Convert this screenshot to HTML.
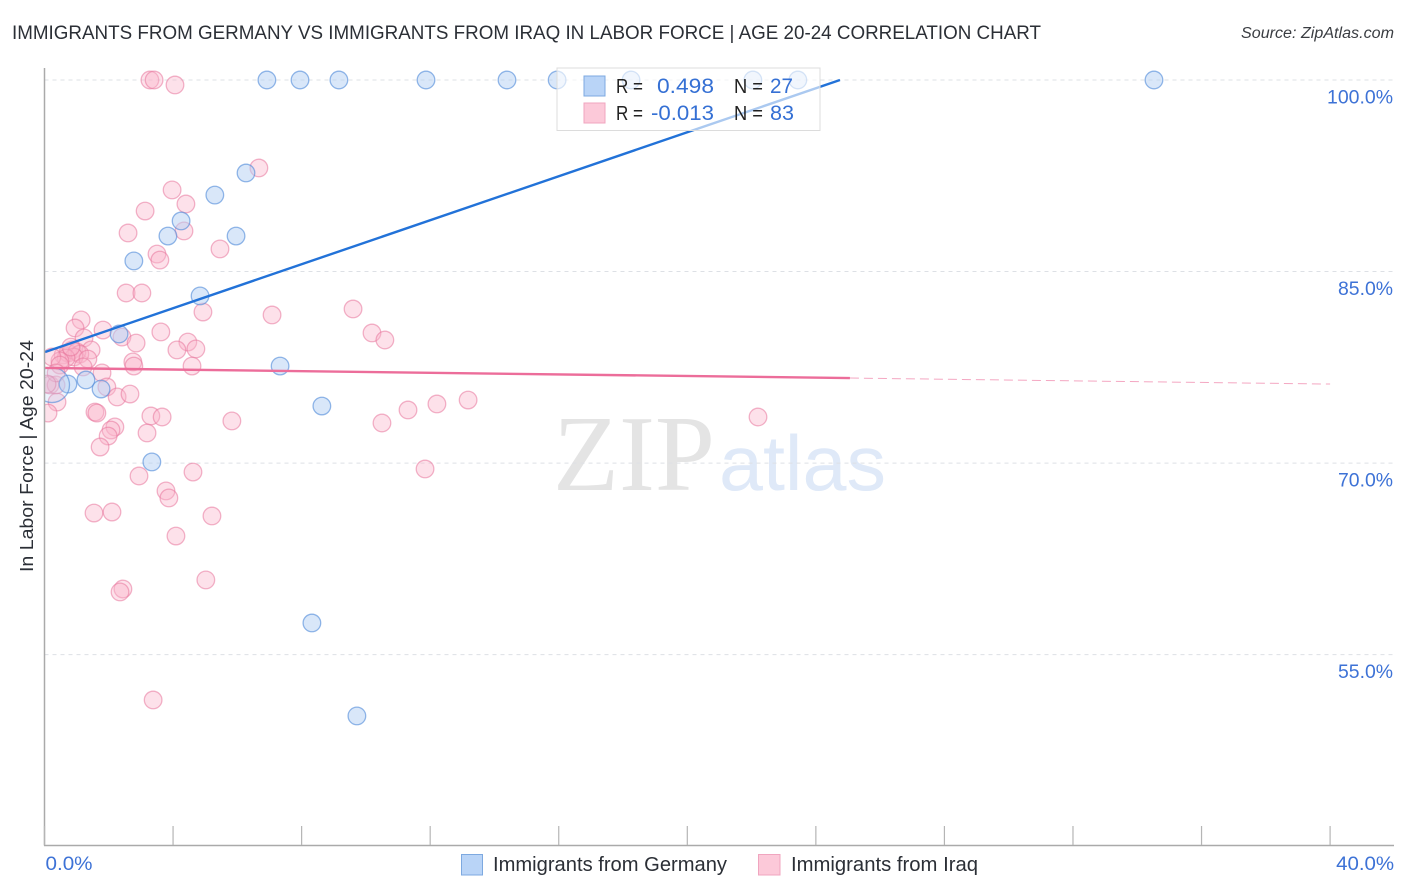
<!DOCTYPE html>
<html lang="en">
<head>
<meta charset="utf-8">
<title>Immigrants from Germany vs Immigrants from Iraq in Labor Force | Age 20-24 Correlation Chart</title>
<style>
html,body{margin:0;padding:0;background:#fff;width:1406px;height:892px;overflow:hidden}
svg{display:block}
text{font-family:"Liberation Sans",sans-serif}
</style>
</head>
<body>
<svg id="chart" xmlns="http://www.w3.org/2000/svg" width="1406" height="892" viewBox="0 0 1406 892">
  <rect x="0" y="0" width="1406" height="892" fill="#ffffff"/>
  <text x="12" y="39" font-size="19" fill="#2b2f36" textLength="1029" lengthAdjust="spacingAndGlyphs">IMMIGRANTS FROM GERMANY VS IMMIGRANTS FROM IRAQ IN LABOR FORCE | AGE 20-24 CORRELATION CHART</text>
  <text x="1241" y="38" font-size="15.5" font-style="italic" fill="#3a3d42" textLength="153" lengthAdjust="spacingAndGlyphs">Source: ZipAtlas.com</text>

  <g id="watermark">
    <text x="553" y="490" font-size="108" fill="#e4e4e4" textLength="162" lengthAdjust="spacingAndGlyphs" style="font-family:'Liberation Serif',serif">ZIP</text>
    <text x="719" y="490" font-size="78" fill="#dfe9f8" textLength="167" lengthAdjust="spacingAndGlyphs">atlas</text>
  </g>

  <g id="grid"></g>
  <g id="pinkPoints"></g>
  <g id="bluePoints"></g>
  <g id="trends"></g>
  <rect x="0" y="60" width="44.5" height="790" fill="#ffffff"/>
  <g id="axes"></g>
  <text transform="translate(33 456) rotate(-90)" text-anchor="middle" font-size="18.5" fill="#2b2f36" textLength="232" lengthAdjust="spacingAndGlyphs">In Labor Force | Age 20-24</text>

  <g id="stats-legend">
    <rect x="557" y="68" width="263" height="62.5" fill="#ffffff" fill-opacity="0.62" stroke="#dcdcdc" stroke-width="1"/>
    <rect x="584" y="76" width="21" height="20" fill="#b9d4f7" stroke="#7da9e0" stroke-width="1"/>
    <rect x="584" y="103" width="21" height="20" fill="#fcc9d9" stroke="#f0a5bf" stroke-width="1"/>
    <text x="616" y="93" font-size="20" fill="#222" textLength="27" lengthAdjust="spacingAndGlyphs">R =</text>
    <text x="657" y="93" font-size="21" fill="#3570d4" textLength="57" lengthAdjust="spacingAndGlyphs">0.498</text>
    <text x="734" y="93" font-size="20" fill="#222" textLength="29" lengthAdjust="spacingAndGlyphs">N =</text>
    <text x="770" y="93" font-size="21" fill="#3570d4" textLength="23" lengthAdjust="spacingAndGlyphs">27</text>
    <text x="616" y="120" font-size="20" fill="#222" textLength="27" lengthAdjust="spacingAndGlyphs">R =</text>
    <text x="651" y="120" font-size="21" fill="#3570d4" textLength="63" lengthAdjust="spacingAndGlyphs">-0.013</text>
    <text x="734" y="120" font-size="20" fill="#222" textLength="29" lengthAdjust="spacingAndGlyphs">N =</text>
    <text x="770" y="120" font-size="21" fill="#3570d4" textLength="24" lengthAdjust="spacingAndGlyphs">83</text>
  </g>

  <g id="bottom-legend">
    <rect x="461.5" y="854.5" width="21" height="20.5" fill="#b9d4f7" stroke="#7da9e0" stroke-width="1"/>
    <text x="493" y="871" font-size="20" fill="#2b2f36" textLength="234" lengthAdjust="spacingAndGlyphs">Immigrants from Germany</text>
    <rect x="758.5" y="854.5" width="21.5" height="20.5" fill="#fcc9d9" stroke="#f0a5bf" stroke-width="1"/>
    <text x="791" y="871" font-size="20" fill="#2b2f36" textLength="187" lengthAdjust="spacingAndGlyphs">Immigrants from Iraq</text>
  </g>
</svg>
<script>
const germanyX = [6.92,7.95,9.16,11.87,14.39,15.95,18.25,22.04,23.44,34.52,6.27,5.30,4.25,3.84,5.96,2.78,4.84,2.32,7.33,8.63,3.34,8.32,9.72,1.29,1.76,0.73,0.23];
const germanyY = [100,100,100,100,100,100,100,100,100,100,92.72,90.99,88.96,87.78,87.78,85.83,83.09,80.11,77.60,74.47,70.09,57.48,50.20,76.51,75.80,76.19,76.12];
const germanyWeights = [1,1,1,1,1,1,1,1,1,1,1,1,1,1,1,1,1,1,1,1,1,1,1,1,1,1,2];
const iraqX = [3.28,3.41,4.06,6.67,3.97,4.40,3.13,4.34,2.60,3.50,3.59,5.46,2.54,3.03,4.93,7.08,9.60,10.19,10.59,1.14,0.95,1.82,2.41,3.62,1.23,2.85,4.46,4.71,4.12,1.45,0.58,0.73,0.86,1.01,1.10,0.92,0.67,0.48,0.82,1.35,0.23,1.20,1.79,2.75,2.78,4.59,1.94,2.26,2.66,0.39,0.11,1.57,1.63,3.31,3.66,5.83,2.19,2.07,1.98,1.73,3.19,2.94,4.62,3.78,3.87,5.21,1.54,2.10,4.09,5.02,2.44,2.35,3.38,11.31,12.21,13.18,10.50,11.84,22.20,0.17,0.36,0.48,0.36,0.08];
const iraqY = [100,100,99.61,93.11,91.39,90.29,89.74,88.18,88.02,86.37,85.90,86.77,83.32,83.32,81.83,81.60,82.07,80.19,79.64,81.21,80.58,80.42,79.87,80.27,79.80,79.40,79.48,78.94,78.86,78.86,78.47,78.62,78.86,78.70,78.54,78.31,78.23,78.00,79.09,78.15,78.31,77.53,77.06,77.92,77.60,77.60,75.96,75.18,75.41,74.78,73.92,74.00,73.92,73.69,73.61,73.30,72.83,72.59,72.12,71.26,72.36,68.99,69.30,67.82,67.27,65.86,66.09,66.17,64.29,60.85,60.14,59.91,51.45,74.16,74.63,74.94,73.14,69.54,73.61,76.12,76.12,77.68,77.06,76.19];
const germanyTrendX = [0.02,24.75];
const germanyTrendY = [78.70,100];
const iraqTrendX = [0.02,25.06];
const iraqTrendY = [77.45,76.66];
const iraqProjectionX = [25.06,40];
const iraqProjectionY = [76.66,76.19];
const yTickValues = [100,85,70,55];
const yTickLabels = ["100.0%","85.0%","70.0%","55.0%"];
const xTickValues = [0,4,8,12,16,20,24,28,32,36,40];
const xEndValues = [0,40];
const xEndLabels = ["0.0%","40.0%"];

const SVGNS = "http://www.w3.org/2000/svg";
function xScale(v){ return 44.5 + v * 32.14; }
function yScale(v){ return 80 + (100 - v) * 12.77; }
function make(tag, parent, attrs){
  const el = document.createElementNS(SVGNS, tag);
  Object.keys(attrs).forEach(function(k){ el.setAttribute(k, attrs[k]); });
  parent.appendChild(el);
  return el;
}

const grid = document.getElementById("grid");
const axes = document.getElementById("axes");
yTickValues.forEach(function(v, i){
  const line = make("line", grid, {x1:44.5, x2:1394, y1:yScale(v), y2:yScale(v), stroke:"#dde0e5", "stroke-width":1, "stroke-dasharray":"4 4"});
  
  
  const label = make("text", axes, {x:1393, y:yScale(v)+23.5, "text-anchor":"end", "font-size":19.5, fill:"#3d72d6", textLength:(i === 0 ? 66 : 55), lengthAdjust:"spacingAndGlyphs"});
  label.textContent = yTickLabels[i];
  
  
});

const yAxis = make("line", axes, {x1:44.5, x2:44.5, y1:68, y2:845.5, stroke:"#aaaaaa", "stroke-width":1.5});


const xAxis = make("line", axes, {x1:44, x2:1394, y1:845.5, y2:845.5, stroke:"#aaaaaa", "stroke-width":1.5});


xTickValues.forEach(function(v){
  const tick = make("line", axes, {x1:xScale(v), x2:xScale(v), y1:826, y2:845, stroke:"#b5b5b5", "stroke-width":1.2});
  
  
});
xEndValues.forEach(function(v, i){
  const label = make("text", axes, {x:(i === 0 ? xScale(v)+1 : xScale(v)+64), y:870, "text-anchor":(i === 0 ? "start" : "end"), "font-size":19.5, fill:"#3d72d6", textLength:(i === 0 ? 47 : 58), lengthAdjust:"spacingAndGlyphs"});
  label.textContent = xEndLabels[i];
  
  
});

const pinkGroup = document.getElementById("pinkPoints");
iraqX.forEach(function(v, i){
  const c = make("circle", pinkGroup, {cx:xScale(v), cy:yScale(iraqY[i]), r:8.8, fill:"#f9b4ca", "fill-opacity":0.4, stroke:"#e8769c", "stroke-opacity":0.55, "stroke-width":1.3});
  
  
});
const blueGroup = document.getElementById("bluePoints");
germanyX.forEach(function(v, i){
  const c = make("circle", blueGroup, {cx:xScale(v), cy:yScale(germanyY[i]), r:8.8 * germanyWeights[i], fill:"#b3d0f4", "fill-opacity":0.5 / germanyWeights[i], stroke:"#4d88d8", "stroke-opacity":0.6, "stroke-width":1.3});
  
  
});

const trends = document.getElementById("trends");
const iraqDash = make("line", trends, {x1:xScale(iraqProjectionX[0]), y1:yScale(iraqProjectionY[0]), x2:xScale(iraqProjectionX[1]), y2:yScale(iraqProjectionY[1]), stroke:"#ec6d9a", "stroke-opacity":0.6, "stroke-width":1, "stroke-dasharray":"9 5"});


const iraqLine = make("line", trends, {x1:xScale(iraqTrendX[0]), y1:yScale(iraqTrendY[0]), x2:xScale(iraqTrendX[1]), y2:yScale(iraqTrendY[1]), stroke:"#ec6d9a", "stroke-width":2.4});


const germanyLine = make("line", trends, {x1:xScale(germanyTrendX[0]), y1:yScale(germanyTrendY[0]), x2:xScale(germanyTrendX[1]), y2:yScale(germanyTrendY[1]), stroke:"#2272d8", "stroke-width":2.4});


</script>
</body>
</html>
